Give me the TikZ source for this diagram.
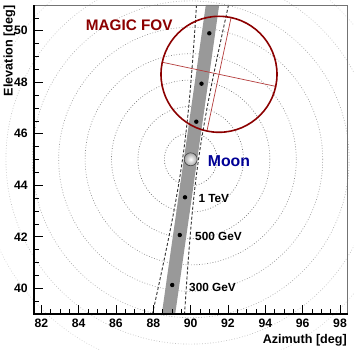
\documentclass[tikz,border=0pt]{standalone}
\usepackage{fontspec}
\setmainfont{Liberation Sans}
\definecolor{fovred}{RGB}{140,0,0}
\definecolor{crossred}{RGB}{180,60,60}
\definecolor{moonblue}{RGB}{0,0,150}
\definecolor{bandgray}{RGB}{153,153,153}
\definecolor{dashgray}{RGB}{50,50,50}
\tikzset{
  ringline/.style={line width=0.65pt, dash pattern=on 0.8pt off 1.9pt},
  edgeline/.style={line width=0.9pt, dashgray, dash pattern=on 3pt off 2pt},
  majortick/.style={line width=0.8pt},
  minortick/.style={line width=0.7pt},
  ticklabel/.style={font=\fontsize{12.2}{12.2}\selectfont\bfseries, inner sep=0pt},
  axlabel/.style={font=\fontsize{12.6}{12.6}\selectfont\bfseries, inner sep=0pt},
  elabel/.style={font=\fontsize{11.8}{11.8}\selectfont\bfseries, inner sep=0pt, anchor=base west},
  pointdot/.style={fill=black}
}
\begin{document}
\begin{tikzpicture}[x=1pt,y=-1pt]
\useasboundingbox (0,0) rectangle (354,350);
\fill[white] (0,0) rectangle (354,350);
% concentric dotted rings around the Moon
\coordinate (moon) at (190.7,159.3);
\begin{scope}
\clip (0,0) rectangle (354,350);
\foreach \k/\g in {1/62,2/57,3/52,4/46,5/40,6/32,7/24,8/16}{
  \draw[ringline, black!\g] (moon) circle (26.4*\k);
}
\end{scope}
% band
\fill[bandgray] (161.8,314) -- (175.2,314) -- (219.2,5) -- (205.8,5) -- cycle;
% dashed envelopes
\draw[edgeline] plot[domain=5:314, samples=80, variable=\t]
  ({168.5+(314-\t)*0.1424 - sqrt(64+(0.09*(\t-159.3))^2)}, \t);
\draw[edgeline] plot[domain=5:314, samples=80, variable=\t]
  ({168.5+(314-\t)*0.1424 + sqrt(64+(0.09*(\t-159.3))^2)}, \t);
% points
\foreach \px/\py in {209.3/33.3, 201.5/83.7, 196.3/121.7, 185/197.3, 179.8/235, 172.2/285}{
  \fill[pointdot] (\px,\py) circle (2.2);
}
% MAGIC FOV
\coordinate (fov) at (219,74.3);
\draw[crossred, line width=0.7pt] (162.3,62.24) -- (275.7,86.36);
\draw[crossred, line width=0.7pt] (231.06,17.6) -- (206.94,131);
\draw[fovred, line width=1.6pt] (fov) circle (58);
% Moon
\shade[inner color=white, outer color=black!35] (moon) circle (6.5);
\draw[black!70, line width=0.7pt] (moon) circle (6.5);
% frame
\draw[black!55, line width=0.7pt] (34,5) -- (347,5) -- (347,314);
\draw[black, line width=1.2pt] (34,314) -- (34,5);
\draw[black, line width=1.6pt] (33.4,314) -- (347.5,314);
% y ticks
\foreach \i in {0,...,22}{
  \draw[minortick] (34,301.175-12.875*\i) -- ++(4.5,0);
}
\foreach \e in {40,42,...,50}{
  \draw[majortick] (34,288.3-25.75*\e+25.75*40) -- ++(9,0);
  \node[ticklabel, anchor=east] at (27.8,288.3-25.75*\e+25.75*40) {\e};
}
% x ticks
\foreach \i in {0,...,32}{
  \draw[minortick] (41.3+9.335*\i,314) -- ++(0,-4.5);
}
\foreach \a in {82,84,...,98}{
  \draw[majortick] (41.3+18.67*\a-18.67*82,314) -- ++(0,-9);
  \node[ticklabel] at (41.3+18.67*\a-18.67*82,323.7) {\a};
}
% axis titles
\node[axlabel, anchor=base east] (xtitle) at (347,343.3) {Azimuth [deg]};
\node[axlabel, rotate=90, anchor=base east] (ytitle) at (12.6,5.5) {Elevation [deg]};
% labels
\node[font=\fontsize{15.3}{15.3}\selectfont\bfseries, fovred, inner sep=0pt, anchor=base west] (fovlabel) at (85.7,30.7) {MAGIC FOV};
\node[font=\fontsize{15.8}{15.8}\selectfont\bfseries, moonblue, inner sep=0pt, anchor=base west] (moonlabel) at (207.7,166.7) {Moon};
\node[elabel] (e1) at (198.3,202.3) {1 TeV};
\node[elabel] (e2) at (195,240.7) {500 GeV};
\node[elabel] (e3) at (189,291) {300 GeV};
\end{tikzpicture}
\end{document}
